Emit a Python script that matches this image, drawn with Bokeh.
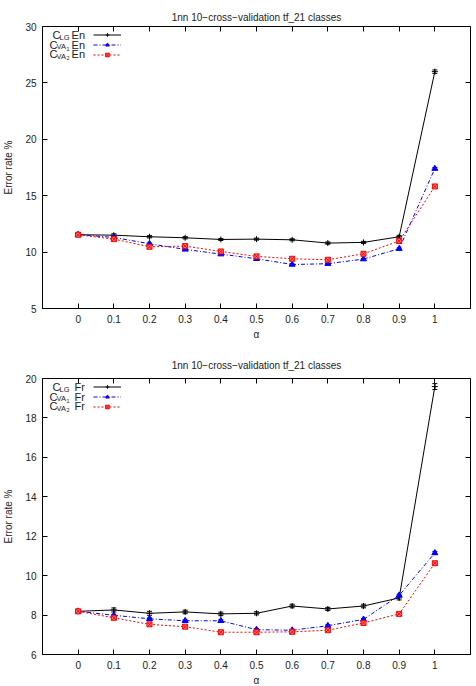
from bokeh.plotting import figure
from bokeh.models import (Range1d, LinearAxis, FixedTicker, Whisker, ColumnDataSource,
                          Label, Legend, LegendItem, TeeHead, NumeralTickFormatter)
from bokeh.layouts import column
from bokeh.embed import file_html
from bokeh.resources import INLINE

# ---------------- data ----------------
alpha = [0.0, 0.1, 0.2, 0.3, 0.4, 0.5, 0.6, 0.7, 0.8, 0.9, 1.0]
x_ticks = [0.0, 0.1, 0.2, 0.3, 0.4, 0.5, 0.6, 0.7, 0.8, 0.9, 1.0]

title_text = "1nn 10\u2212cross\u2212validation tf_21 classes"

# English
clg_en = [11.54, 11.50, 11.36, 11.27, 11.12, 11.15, 11.09, 10.80, 10.86, 11.36, 26.00]
va1_en = [11.54, 11.30, 10.74, 10.24, 9.82, 9.41, 8.90, 8.97, 9.38, 10.30, 17.40]
va2_en = [11.54, 11.15, 10.47, 10.53, 10.06, 9.62, 9.41, 9.32, 9.85, 10.98, 15.82]
clg_en_err = [0.10, 0.12, 0.10, 0.10, 0.09, 0.09, 0.09, 0.10, 0.09, 0.12, 0.15]
va1_en_err = [0.06, 0.06, 0.06, 0.06, 0.06, 0.06, 0.06, 0.06, 0.06, 0.06, 0.10]
va2_en_err = [0.06, 0.06, 0.06, 0.06, 0.06, 0.06, 0.06, 0.06, 0.06, 0.06, 0.10]
en_yticks = [5, 10, 15, 20, 25, 30]

# French
clg_fr = [8.19, 8.26, 8.09, 8.16, 8.06, 8.09, 8.46, 8.31, 8.46, 8.87, 19.59]
va1_fr = [8.19, 7.99, 7.81, 7.71, 7.71, 7.26, 7.23, 7.46, 7.78, 9.00, 11.15]
va2_fr = [8.19, 7.86, 7.53, 7.41, 7.13, 7.13, 7.15, 7.23, 7.60, 8.06, 10.63]
clg_fr_err = [0.08, 0.10, 0.10, 0.09, 0.09, 0.08, 0.09, 0.08, 0.09, 0.10, 0.15]
va1_fr_err = [0.05, 0.05, 0.05, 0.05, 0.05, 0.05, 0.05, 0.05, 0.05, 0.06, 0.08]
va2_fr_err = [0.05, 0.05, 0.05, 0.05, 0.05, 0.05, 0.05, 0.05, 0.05, 0.05, 0.08]
fr_yticks = [6, 8, 10, 12, 14, 16, 18, 20]

FONT = "Liberation Sans"
TXT = "#222222"


def make_panel(lang, series, errs, ylim, yticks, frame_h, b_top, b_bottom, title_standoff):
    p = figure(width=476, frame_width=428, frame_height=frame_h,
               min_border_left=40, min_border_right=8,
               min_border_top=b_top, min_border_bottom=b_bottom,
               x_range=Range1d(-0.1, 1.1), y_range=Range1d(*ylim),
               output_backend="svg", toolbar_location=None,
               title=title_text)
    p.title.align = "center"
    p.title.text_font = FONT
    p.title.text_font_size = "10px"
    p.title.text_font_style = "normal"
    p.title.text_color = TXT
    p.title.standoff = title_standoff
    p.grid.visible = False
    p.outline_line_color = "black"
    p.outline_line_width = 1
    p.outline_line_alpha = 1
    p.background_fill_color = "white"
    p.border_fill_color = "white"

    for ax in (p.xaxis[0], p.yaxis[0]):
        ax.major_tick_in = 5
        ax.major_tick_out = 0
        ax.minor_tick_line_color = None
        ax.axis_line_color = "black"
        ax.major_tick_line_color = "black"
        ax.major_label_text_font = FONT
        ax.major_label_text_font_size = "10px"
        ax.major_label_text_color = TXT
        ax.axis_label_text_font = FONT
        ax.axis_label_text_font_size = "10px"
        ax.axis_label_text_font_style = "normal"
        ax.axis_label_text_color = TXT
    p.xaxis[0].ticker = FixedTicker(ticks=x_ticks)
    p.xaxis[0].formatter = NumeralTickFormatter(format="0.[0]")
    p.xaxis[0].axis_label = "\u03b1"
    p.xaxis[0].major_label_standoff = 6
    p.xaxis[0].axis_label_standoff = 3
    p.yaxis[0].ticker = FixedTicker(ticks=yticks)
    p.yaxis[0].axis_label = "Error rate %"
    p.yaxis[0].major_label_standoff = 6
    p.yaxis[0].axis_label_standoff = 8

    # mirror ticks on top and right (labels not drawn)
    top = LinearAxis(ticker=FixedTicker(ticks=x_ticks), major_tick_in=5, major_tick_out=0,
                     minor_tick_line_color=None, axis_line_color=None,
                     major_label_text_font_size="1px", major_label_text_color=None,
                     major_label_standoff=0)
    right = LinearAxis(ticker=FixedTicker(ticks=yticks), major_tick_in=5, major_tick_out=0,
                       minor_tick_line_color=None, axis_line_color=None,
                       major_label_text_font_size="1px", major_label_text_color=None,
                       major_label_standoff=0)
    p.add_layout(top, "above")
    p.add_layout(right, "right")

    styles = [
        dict(color="black", dash="solid", marker="cross", fill=None, size=6),
        dict(color="#0000ff", dash="4 2 1 2", marker="triangle", fill="#0000ff", size=6),
        dict(color="#ff0000", dash="2 2", marker="square_x", fill="#ff8080", size=5),
    ]
    items = []
    for ys, es, st in zip(series, errs, styles):
        src = ColumnDataSource(dict(x=alpha, y=ys,
                                    lo=[a - b for a, b in zip(ys, es)],
                                    hi=[a + b for a, b in zip(ys, es)]))
        lr = p.line("x", "y", source=src, line_color=st["color"], line_width=1,
                    line_dash=st["dash"])
        sr = p.scatter("x", "y", source=src, marker=st["marker"], size=st["size"],
                       line_color=st["color"], fill_color=st["fill"], line_width=1)
        p.add_layout(Whisker(source=src, base="x", lower="lo", upper="hi",
                             line_color=st["color"], line_width=1,
                             upper_head=TeeHead(size=5, line_color=st["color"], line_width=1),
                             lower_head=TeeHead(size=5, line_color=st["color"], line_width=1)))
        items.append(LegendItem(label=" ", renderers=[lr, sr]))

    # legend samples
    leg = Legend(items=items, location=(51, frame_h - 33), glyph_width=28, glyph_height=9,
                 label_height=9, label_width=0, label_standoff=0, spacing=1, padding=0,
                 margin=0, border_line_color=None, background_fill_alpha=0,
                 label_text_font_size="6px", label_text_color=None)
    p.add_layout(leg)

    # legend texts with subscripts
    subs = [("LG", None), ("VA", "1"), ("VA", "2")]
    c_x = [10.0, 7.0, 7.0]
    for i, (sub, subsub) in enumerate(subs):
        yc = frame_h - (8.5 + 9.5 * i)
        kw = dict(x_units="screen", y_units="screen", text_font=FONT, text_color=TXT,
                  text_baseline="middle", text_align="left")
        p.add_layout(Label(x=c_x[i], y=yc, text="C", text_font_size="11px", **kw))
        p.add_layout(Label(x=c_x[i] + 7.0, y=yc - 2, text=sub, text_font_size="7.5px", **kw))
        if subsub:
            p.add_layout(Label(x=c_x[i] + 17.0, y=yc - 4, text=subsub, text_font_size="5.5px", **kw))
        p.add_layout(Label(x=42.5, y=yc, text=lang, text_font_size="11px",
                           **{**kw, "text_align": "right"}))
    return p


p1 = make_panel("En", [clg_en, va1_en, va2_en], [clg_en_err, va1_en_err, va2_en_err],
                (5, 30), en_yticks, 282, 26, 33, 7)
p2 = make_panel("Fr", [clg_fr, va1_fr, va2_fr], [clg_fr_err, va1_fr_err, va2_fr_err],
                (6, 20), fr_yticks, 276, 36, 33, 15)

layout = column(p1, p2, spacing=0)
open("out.html", "w").write(file_html(layout, INLINE))
